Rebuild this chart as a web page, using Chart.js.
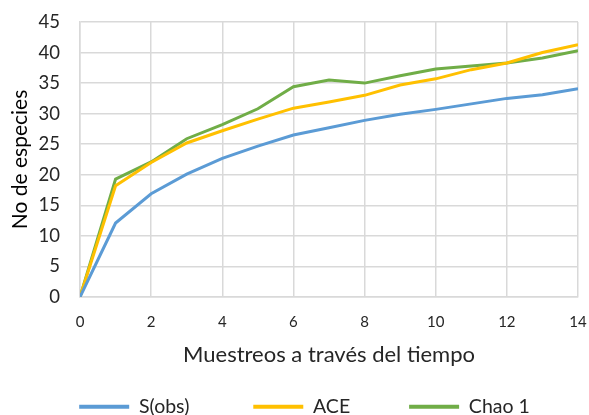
<!DOCTYPE html>
<html lang="es">
<head>
  <meta charset="UTF-8">
  <title>Especies</title>
  <script src="https://cdn.jsdelivr.net/npm/chart.js"></script>
  <style>
    html, body { margin: 0; padding: 0; background: #fff; }
    #wrap { width: 589px; height: 415px; }
  </style>
</head>
<body>
  <div id="wrap"><canvas id="chart"></canvas></div>
  <script>
    const muestreos = [0, 1, 2, 3, 4, 5, 6, 7, 8, 9, 10, 11, 12, 13, 14];
    const sobs  = [0, 12.1, 16.9, 20.1, 22.7, 24.7, 26.5, 27.7, 28.9, 29.9, 30.7, 31.6, 32.5, 33.1, 34.1];
    const ace   = [0, 18.2, 22.0, 25.2, 27.2, 29.1, 30.9, 31.9, 33.0, 34.7, 35.7, 37.2, 38.3, 40.0, 41.3];
    const chao1 = [0, 19.3, 22.1, 25.9, 28.2, 30.8, 34.4, 35.5, 35.0, 36.2, 37.3, 37.8, 38.3, 39.1, 40.3];

    const pts = arr => arr.map((v, i) => ({ x: muestreos[i], y: v }));
    const font = "Lato, 'Liberation Sans', sans-serif";
    // extra room after each legend label, to space the items like the original
    const legendGap = [7, 6, 1];

    function serie(label, data, color) {
      return {
        label: label,
        data: pts(data),
        borderColor: color,
        backgroundColor: color,
        borderWidth: 3,
        pointRadius: 0,
        tension: 0,
        fill: false
      };
    }

    // hidden tick marks just push the labels away from the axis
    const gridOpts = len => ({ color: "#d9d9d9", lineWidth: 1.5, drawTicks: true, tickLength: len, tickColor: "rgba(0,0,0,0)" });

    new Chart(document.getElementById("chart"), {
      type: "line",
      data: {
        datasets: [
          serie("S(obs)", sobs, "#5b9bd5"),
          serie("ACE", ace, "#ffc000"),
          serie("Chao 1", chao1, "#70ad47")
        ]
      },
      options: {
        responsive: true,
        maintainAspectRatio: false,
        animation: false,
        layout: { padding: { left: 36, right: 11, top: 22, bottom: 0 } },
        plugins: {
          tooltip: { enabled: false },
          legend: {
            position: "bottom",
            maxHeight: 47,
            labels: {
              boxWidth: 50,
              boxHeight: 4,
              padding: 29,
              color: "#262626",
              font: { family: font, size: 19.5 },
              generateLabels(chart) {
                const items = Chart.defaults.plugins.legend.labels.generateLabels(chart);
                items.forEach((it, i) => {
                  it.text = it.text + " ".repeat(legendGap[i]);
                  it.lineWidth = 0;
                });
                return items;
              }
            }
          }
        },
        scales: {
          x: {
            type: "linear",
            min: 0,
            max: 14,
            afterFit(scale) { scale.height = 71; },
            ticks: { stepSize: 2, color: "#262626", font: { family: font, size: 15 }, padding: 0 },
            grid: gridOpts(16),
            border: { color: "#d9d9d9", width: 1.5 },
            title: { display: true, text: "Muestreos a través del tiempo", color: "#262626",
                     font: { family: font, size: 22 }, padding: { top: 0, bottom: 0 } }
          },
          y: {
            min: 0,
            max: 45,
            afterFit(scale) { scale.width = 44; },
            ticks: { stepSize: 5, color: "#262626", font: { family: font, size: 18.5 }, padding: 0 },
            grid: gridOpts(20),
            border: { color: "#d9d9d9", width: 1.5 },
            title: { display: true, text: "No de especies", color: "#000",
                     font: { family: font, size: 21 }, padding: { top: -28, bottom: 0 } }
          }
        }
      }
    });
  </script>
</body>
</html>
